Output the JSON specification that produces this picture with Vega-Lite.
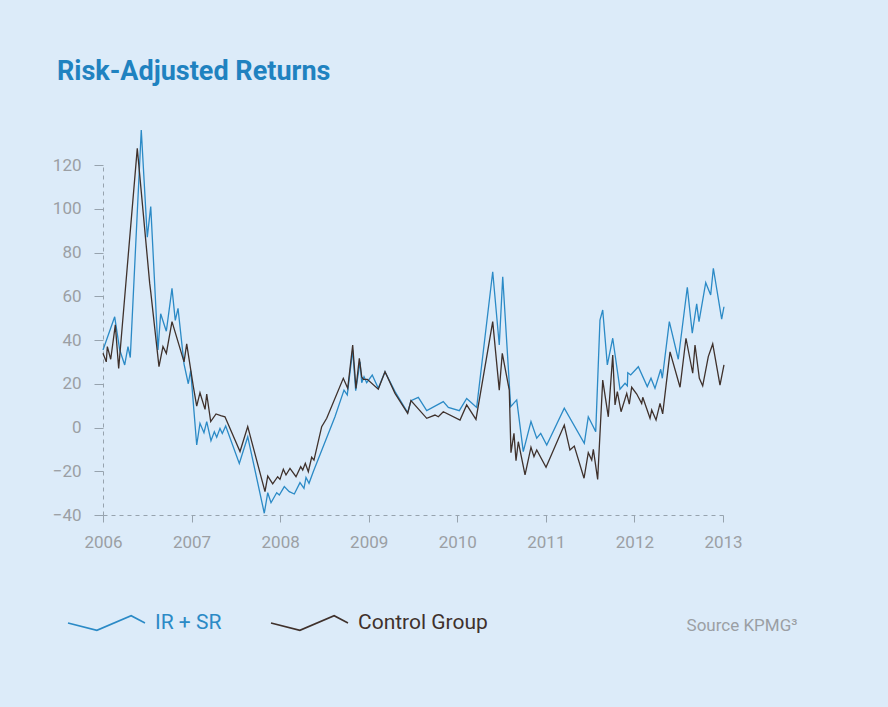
{
  "$schema": "https://vega.github.io/schema/vega-lite/v6.json",
  "width": 620,
  "height": 350,
  "autosize": {"type": "none"},
  "padding": {"left": 103, "top": 165, "right": 165, "bottom": 192},
  "background": "#dcebf9",
  "title": {
    "text": "Risk-Adjusted Returns",
    "anchor": "start",
    "frame": "group",
    "font": "Roboto",
    "fontSize": 27,
    "fontWeight": "bold",
    "color": "#1f82c0",
    "baseline": "alphabetic",
    "dx": -46,
    "offset": 20
  },
  "data": {
    "values": [
      {"t": 2006.000, "v": 35.4, "s": "IR + SR"},
      {"t": 2006.132, "v": 50.6, "s": "IR + SR"},
      {"t": 2006.189, "v": 35.4, "s": "IR + SR"},
      {"t": 2006.245, "v": 28.6, "s": "IR + SR"},
      {"t": 2006.282, "v": 37, "s": "IR + SR"},
      {"t": 2006.308, "v": 32, "s": "IR + SR"},
      {"t": 2006.432, "v": 136, "s": "IR + SR"},
      {"t": 2006.500, "v": 87, "s": "IR + SR"},
      {"t": 2006.539, "v": 101, "s": "IR + SR"},
      {"t": 2006.621, "v": 35.4, "s": "IR + SR"},
      {"t": 2006.651, "v": 52, "s": "IR + SR"},
      {"t": 2006.715, "v": 44, "s": "IR + SR"},
      {"t": 2006.779, "v": 63.6, "s": "IR + SR"},
      {"t": 2006.816, "v": 49, "s": "IR + SR"},
      {"t": 2006.847, "v": 54.5, "s": "IR + SR"},
      {"t": 2006.915, "v": 29, "s": "IR + SR"},
      {"t": 2006.963, "v": 20, "s": "IR + SR"},
      {"t": 2006.990, "v": 26, "s": "IR + SR"},
      {"t": 2007.058, "v": -8, "s": "IR + SR"},
      {"t": 2007.095, "v": 1.9, "s": "IR + SR"},
      {"t": 2007.140, "v": -2.4, "s": "IR + SR"},
      {"t": 2007.171, "v": 2.7, "s": "IR + SR"},
      {"t": 2007.219, "v": -6, "s": "IR + SR"},
      {"t": 2007.257, "v": -1.9, "s": "IR + SR"},
      {"t": 2007.284, "v": -4.5, "s": "IR + SR"},
      {"t": 2007.321, "v": -0.4, "s": "IR + SR"},
      {"t": 2007.347, "v": -2.7, "s": "IR + SR"},
      {"t": 2007.385, "v": 0.7, "s": "IR + SR"},
      {"t": 2007.539, "v": -16.4, "s": "IR + SR"},
      {"t": 2007.634, "v": -4.2, "s": "IR + SR"},
      {"t": 2007.821, "v": -39.2, "s": "IR + SR"},
      {"t": 2007.860, "v": -29.8, "s": "IR + SR"},
      {"t": 2007.897, "v": -34.4, "s": "IR + SR"},
      {"t": 2007.961, "v": -29.8, "s": "IR + SR"},
      {"t": 2007.991, "v": -30.9, "s": "IR + SR"},
      {"t": 2008.047, "v": -27, "s": "IR + SR"},
      {"t": 2008.103, "v": -29.3, "s": "IR + SR"},
      {"t": 2008.160, "v": -30.4, "s": "IR + SR"},
      {"t": 2008.224, "v": -25.2, "s": "IR + SR"},
      {"t": 2008.269, "v": -27.8, "s": "IR + SR"},
      {"t": 2008.292, "v": -22.8, "s": "IR + SR"},
      {"t": 2008.326, "v": -25.5, "s": "IR + SR"},
      {"t": 2008.374, "v": -20.2, "s": "IR + SR"},
      {"t": 2008.619, "v": 4.9, "s": "IR + SR"},
      {"t": 2008.721, "v": 17.1, "s": "IR + SR"},
      {"t": 2008.758, "v": 14.9, "s": "IR + SR"},
      {"t": 2008.819, "v": 35.4, "s": "IR + SR"},
      {"t": 2008.853, "v": 16.8, "s": "IR + SR"},
      {"t": 2008.902, "v": 30, "s": "IR + SR"},
      {"t": 2008.921, "v": 20.5, "s": "IR + SR"},
      {"t": 2008.947, "v": 23.2, "s": "IR + SR"},
      {"t": 2008.977, "v": 20.5, "s": "IR + SR"},
      {"t": 2009.040, "v": 24, "s": "IR + SR"},
      {"t": 2009.108, "v": 17.9, "s": "IR + SR"},
      {"t": 2009.184, "v": 25.5, "s": "IR + SR"},
      {"t": 2009.297, "v": 16.4, "s": "IR + SR"},
      {"t": 2009.440, "v": 6.8, "s": "IR + SR"},
      {"t": 2009.477, "v": 12.3, "s": "IR + SR"},
      {"t": 2009.560, "v": 13.8, "s": "IR + SR"},
      {"t": 2009.655, "v": 7.7, "s": "IR + SR"},
      {"t": 2009.842, "v": 11.8, "s": "IR + SR"},
      {"t": 2009.899, "v": 9.2, "s": "IR + SR"},
      {"t": 2010.023, "v": 7.7, "s": "IR + SR"},
      {"t": 2010.106, "v": 13.3, "s": "IR + SR"},
      {"t": 2010.219, "v": 9.2, "s": "IR + SR"},
      {"t": 2010.400, "v": 71.2, "s": "IR + SR"},
      {"t": 2010.474, "v": 37.7, "s": "IR + SR"},
      {"t": 2010.513, "v": 68.9, "s": "IR + SR"},
      {"t": 2010.603, "v": 9.5, "s": "IR + SR"},
      {"t": 2010.671, "v": 12.6, "s": "IR + SR"},
      {"t": 2010.745, "v": -11, "s": "IR + SR"},
      {"t": 2010.832, "v": 2.7, "s": "IR + SR"},
      {"t": 2010.897, "v": -4.9, "s": "IR + SR"},
      {"t": 2010.942, "v": -2.7, "s": "IR + SR"},
      {"t": 2011.010, "v": -8, "s": "IR + SR"},
      {"t": 2011.208, "v": 8.8, "s": "IR + SR"},
      {"t": 2011.434, "v": -7.2, "s": "IR + SR"},
      {"t": 2011.479, "v": 4.9, "s": "IR + SR"},
      {"t": 2011.563, "v": -1.9, "s": "IR + SR"},
      {"t": 2011.611, "v": 49.1, "s": "IR + SR"},
      {"t": 2011.642, "v": 53.7, "s": "IR + SR"},
      {"t": 2011.694, "v": 28.6, "s": "IR + SR"},
      {"t": 2011.755, "v": 40.8, "s": "IR + SR"},
      {"t": 2011.837, "v": 17.5, "s": "IR + SR"},
      {"t": 2011.894, "v": 20.2, "s": "IR + SR"},
      {"t": 2011.920, "v": 19, "s": "IR + SR"},
      {"t": 2011.925, "v": 25, "s": "IR + SR"},
      {"t": 2011.958, "v": 24, "s": "IR + SR"},
      {"t": 2012.044, "v": 27.8, "s": "IR + SR"},
      {"t": 2012.145, "v": 18.7, "s": "IR + SR"},
      {"t": 2012.187, "v": 22.5, "s": "IR + SR"},
      {"t": 2012.232, "v": 17.9, "s": "IR + SR"},
      {"t": 2012.297, "v": 26.6, "s": "IR + SR"},
      {"t": 2012.315, "v": 22.5, "s": "IR + SR"},
      {"t": 2012.394, "v": 48.4, "s": "IR + SR"},
      {"t": 2012.495, "v": 31.2, "s": "IR + SR"},
      {"t": 2012.597, "v": 64.1, "s": "IR + SR"},
      {"t": 2012.653, "v": 43.1, "s": "IR + SR"},
      {"t": 2012.703, "v": 56.5, "s": "IR + SR"},
      {"t": 2012.729, "v": 48.4, "s": "IR + SR"},
      {"t": 2012.805, "v": 66.2, "s": "IR + SR"},
      {"t": 2012.861, "v": 60.6, "s": "IR + SR"},
      {"t": 2012.891, "v": 72.8, "s": "IR + SR"},
      {"t": 2012.985, "v": 49.5, "s": "IR + SR"},
      {"t": 2013.011, "v": 55.2, "s": "IR + SR"},
      {"t": 2006.000, "v": 33.9, "s": "Control Group"},
      {"t": 2006.037, "v": 30, "s": "Control Group"},
      {"t": 2006.049, "v": 37, "s": "Control Group"},
      {"t": 2006.087, "v": 31.2, "s": "Control Group"},
      {"t": 2006.139, "v": 46.9, "s": "Control Group"},
      {"t": 2006.177, "v": 27, "s": "Control Group"},
      {"t": 2006.387, "v": 127.6, "s": "Control Group"},
      {"t": 2006.527, "v": 66, "s": "Control Group"},
      {"t": 2006.539, "v": 62, "s": "Control Group"},
      {"t": 2006.632, "v": 27.8, "s": "Control Group"},
      {"t": 2006.677, "v": 37, "s": "Control Group"},
      {"t": 2006.715, "v": 33.9, "s": "Control Group"},
      {"t": 2006.779, "v": 48.4, "s": "Control Group"},
      {"t": 2006.915, "v": 30, "s": "Control Group"},
      {"t": 2006.945, "v": 38.2, "s": "Control Group"},
      {"t": 2007.020, "v": 18.7, "s": "Control Group"},
      {"t": 2007.058, "v": 9.8, "s": "Control Group"},
      {"t": 2007.095, "v": 15.9, "s": "Control Group"},
      {"t": 2007.152, "v": 8.3, "s": "Control Group"},
      {"t": 2007.171, "v": 15.3, "s": "Control Group"},
      {"t": 2007.216, "v": 2.7, "s": "Control Group"},
      {"t": 2007.276, "v": 6.2, "s": "Control Group"},
      {"t": 2007.329, "v": 5.4, "s": "Control Group"},
      {"t": 2007.377, "v": 4.9, "s": "Control Group"},
      {"t": 2007.547, "v": -11, "s": "Control Group"},
      {"t": 2007.634, "v": 0.4, "s": "Control Group"},
      {"t": 2007.829, "v": -29.3, "s": "Control Group"},
      {"t": 2007.860, "v": -22.2, "s": "Control Group"},
      {"t": 2007.916, "v": -25.8, "s": "Control Group"},
      {"t": 2007.972, "v": -22.5, "s": "Control Group"},
      {"t": 2007.998, "v": -23.7, "s": "Control Group"},
      {"t": 2008.036, "v": -19.1, "s": "Control Group"},
      {"t": 2008.066, "v": -21.7, "s": "Control Group"},
      {"t": 2008.111, "v": -18.7, "s": "Control Group"},
      {"t": 2008.179, "v": -22.5, "s": "Control Group"},
      {"t": 2008.232, "v": -17.9, "s": "Control Group"},
      {"t": 2008.255, "v": -19.4, "s": "Control Group"},
      {"t": 2008.284, "v": -16.4, "s": "Control Group"},
      {"t": 2008.318, "v": -20.2, "s": "Control Group"},
      {"t": 2008.356, "v": -13.6, "s": "Control Group"},
      {"t": 2008.382, "v": -14.9, "s": "Control Group"},
      {"t": 2008.469, "v": 0.4, "s": "Control Group"},
      {"t": 2008.526, "v": 4.2, "s": "Control Group"},
      {"t": 2008.713, "v": 22.5, "s": "Control Group"},
      {"t": 2008.763, "v": 17.9, "s": "Control Group"},
      {"t": 2008.819, "v": 37.7, "s": "Control Group"},
      {"t": 2008.856, "v": 17.9, "s": "Control Group"},
      {"t": 2008.894, "v": 31.6, "s": "Control Group"},
      {"t": 2008.921, "v": 23.2, "s": "Control Group"},
      {"t": 2008.939, "v": 22, "s": "Control Group"},
      {"t": 2008.984, "v": 22, "s": "Control Group"},
      {"t": 2009.108, "v": 17.5, "s": "Control Group"},
      {"t": 2009.184, "v": 25.5, "s": "Control Group"},
      {"t": 2009.297, "v": 15.6, "s": "Control Group"},
      {"t": 2009.440, "v": 6.5, "s": "Control Group"},
      {"t": 2009.477, "v": 12.3, "s": "Control Group"},
      {"t": 2009.655, "v": 4.2, "s": "Control Group"},
      {"t": 2009.748, "v": 5.7, "s": "Control Group"},
      {"t": 2009.786, "v": 4.9, "s": "Control Group"},
      {"t": 2009.842, "v": 7.2, "s": "Control Group"},
      {"t": 2010.031, "v": 3.4, "s": "Control Group"},
      {"t": 2010.106, "v": 10.3, "s": "Control Group"},
      {"t": 2010.211, "v": 3.7, "s": "Control Group"},
      {"t": 2010.400, "v": 48.4, "s": "Control Group"},
      {"t": 2010.474, "v": 17.1, "s": "Control Group"},
      {"t": 2010.508, "v": 33.9, "s": "Control Group"},
      {"t": 2010.587, "v": 17.1, "s": "Control Group"},
      {"t": 2010.606, "v": -11.5, "s": "Control Group"},
      {"t": 2010.640, "v": -2.7, "s": "Control Group"},
      {"t": 2010.663, "v": -15.2, "s": "Control Group"},
      {"t": 2010.689, "v": -6.5, "s": "Control Group"},
      {"t": 2010.765, "v": -21.7, "s": "Control Group"},
      {"t": 2010.832, "v": -9, "s": "Control Group"},
      {"t": 2010.866, "v": -13.3, "s": "Control Group"},
      {"t": 2010.897, "v": -10.3, "s": "Control Group"},
      {"t": 2011.002, "v": -18.2, "s": "Control Group"},
      {"t": 2011.208, "v": 1.1, "s": "Control Group"},
      {"t": 2011.272, "v": -10.3, "s": "Control Group"},
      {"t": 2011.321, "v": -8.5, "s": "Control Group"},
      {"t": 2011.431, "v": -23.2, "s": "Control Group"},
      {"t": 2011.479, "v": -11.5, "s": "Control Group"},
      {"t": 2011.518, "v": -14.9, "s": "Control Group"},
      {"t": 2011.536, "v": -10, "s": "Control Group"},
      {"t": 2011.585, "v": -23.7, "s": "Control Group"},
      {"t": 2011.642, "v": 21.7, "s": "Control Group"},
      {"t": 2011.705, "v": 4.9, "s": "Control Group"},
      {"t": 2011.755, "v": 33.1, "s": "Control Group"},
      {"t": 2011.781, "v": 10.3, "s": "Control Group"},
      {"t": 2011.807, "v": 16.4, "s": "Control Group"},
      {"t": 2011.849, "v": 7.2, "s": "Control Group"},
      {"t": 2011.913, "v": 15.6, "s": "Control Group"},
      {"t": 2011.942, "v": 10.7, "s": "Control Group"},
      {"t": 2011.969, "v": 18.4, "s": "Control Group"},
      {"t": 2012.026, "v": 15.3, "s": "Control Group"},
      {"t": 2012.082, "v": 11, "s": "Control Group"},
      {"t": 2012.094, "v": 13.8, "s": "Control Group"},
      {"t": 2012.176, "v": 4.2, "s": "Control Group"},
      {"t": 2012.195, "v": 8, "s": "Control Group"},
      {"t": 2012.244, "v": 3.4, "s": "Control Group"},
      {"t": 2012.289, "v": 11, "s": "Control Group"},
      {"t": 2012.319, "v": 6.2, "s": "Control Group"},
      {"t": 2012.402, "v": 34.6, "s": "Control Group"},
      {"t": 2012.515, "v": 18.4, "s": "Control Group"},
      {"t": 2012.582, "v": 40.8, "s": "Control Group"},
      {"t": 2012.658, "v": 24.8, "s": "Control Group"},
      {"t": 2012.684, "v": 37.7, "s": "Control Group"},
      {"t": 2012.733, "v": 22.5, "s": "Control Group"},
      {"t": 2012.771, "v": 19, "s": "Control Group"},
      {"t": 2012.834, "v": 32.4, "s": "Control Group"},
      {"t": 2012.884, "v": 38.2, "s": "Control Group"},
      {"t": 2012.966, "v": 19.4, "s": "Control Group"},
      {"t": 2013.011, "v": 28.6, "s": "Control Group"}
    ]
  },
  "mark": {"type": "line", "strokeWidth": 1.3, "clip": false},
  "encoding": {
    "x": {
      "field": "t",
      "type": "quantitative",
      "scale": {"domain": [2006, 2013], "nice": false, "zero": false},
      "axis": {
        "values": [2006, 2007, 2008, 2009, 2010, 2011, 2012, 2013],
        "format": "d",
        "grid": false,
        "labelFlush": false,
        "labelOverlap": false,
        "domainDash": [4, 4],
        "domainColor": "#97a3ae",
        "tickColor": "#97a3ae",
        "tickSize": 7,
        "labelFont": "Roboto",
        "labelFontSize": 17,
        "labelColor": "#9b9fa4",
        "labelPadding": 12,
        "title": "Source KPMG³",
        "titleFont": "Roboto",
        "titleFontSize": 17,
        "titleFontWeight": "normal",
        "titleColor": "#9b9fa4",
        "titleAnchor": "end",
        "titleAlign": "right",
        "titleBaseline": "alphabetic",
        "titleX": 694,
        "titleY": 115
      }
    },
    "y": {
      "field": "v",
      "type": "quantitative",
      "scale": {"domain": [-40, 120], "nice": false, "zero": false},
      "axis": {
        "values": [-40, -20, 0, 20, 40, 60, 80, 100, 120],
        "grid": false,
        "title": null,
        "labelFlush": false,
        "labelOverlap": false,
        "domainDash": [4, 4],
        "domainColor": "#97a3ae",
        "tickColor": "#97a3ae",
        "tickSize": 9,
        "labelFont": "Roboto",
        "labelFontSize": 17,
        "labelColor": "#9b9fa4",
        "labelPadding": 13
      }
    },
    "color": {
      "field": "s",
      "type": "nominal",
      "scale": {"domain": ["IR + SR", "Control Group"], "range": ["#2b8ac6", "#3f312c"]},
      "legend": {
        "title": null,
        "orient": "none",
        "direction": "horizontal",
        "legendX": -36,
        "legendY": 418,
        "padding": 0,
        "symbolType": "M-1,0L-0.25,0.19L0.64,-0.19L1,0",
        "symbolSize": 5929,
        "symbolStrokeWidth": 1.6,
        "symbolFillColor": "transparent",
        "labelFont": "Roboto",
        "labelFontSize": 21,
        "labelOffset": 9,
        "columnPadding": 45,
        "labelLimit": 300,
        "encode": {
          "labels": {"update": {"fill": {"scale": "color", "field": "value"}}}
        }
      }
    }
  },
  "config": {"view": {"stroke": null}}
}
